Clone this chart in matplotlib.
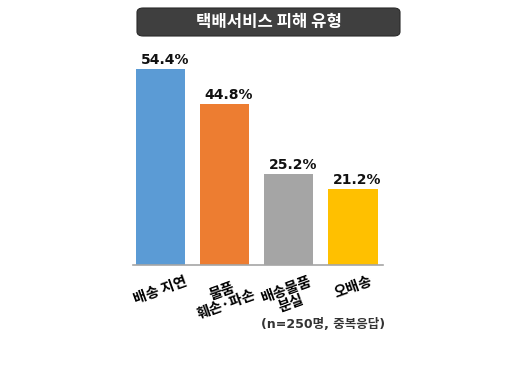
import matplotlib
matplotlib.use("Agg")
import matplotlib.pyplot as plt
from matplotlib.patches import FancyBboxPatch

categories = ["배송 지연", "물품\n훼손·파손", "배송물품\n분실", "오배송"]
values = [54.4, 44.8, 25.2, 21.2]
value_labels = ["54.4%", "44.8%", "25.2%", "21.2%"]
colors = ["#5B9BD5", "#ED7D31", "#A5A5A5", "#FFC000"]
title = "택배서비스 피해 유형"
note = "(n=250명, 중복응답)"

W, H = 520, 365
fig = plt.figure(figsize=(W / 100, H / 100), dpi=100)
fig.patch.set_facecolor("white")

ax_l, ax_r, ax_b, ax_t = 133, 383, 265, 49
ax = fig.add_axes([ax_l / W, 1 - ax_b / H, (ax_r - ax_l) / W, (ax_b - ax_t) / H])
x = range(len(categories))
ax.bar(x, values, width=0.77, color=colors)
ax.set_xlim(-0.43, 3.47)
ax.set_ylim(0, 60)
for s in ["top", "right", "left"]:
    ax.spines[s].set_visible(False)
ax.spines["bottom"].set_color("#A6A6A6")
ax.spines["bottom"].set_linewidth(1.2)
ax.set_yticks([])
ax.set_xticks(list(x))
ax.set_xticklabels(categories, rotation=20, ha="center", va="top",
                   family=["Noto Sans CJK KR", "DejaVu Sans"], fontweight="bold",
                   fontsize=10.3, linespacing=1.0)
ax.tick_params(axis="x", length=0, pad=7)
ax.set_facecolor("none")

for xi, v, lab in zip(x, values, value_labels):
    ax.annotate(lab, (xi, v), xytext=(3, 1.5), textcoords="offset points",
                ha="center", va="bottom", fontsize=10, fontweight="bold",
                family="DejaVu Sans", color="#111111")

# title box
bx0, bx1, by0, by1 = 137, 400, 8, 36
box = FancyBboxPatch((bx0 / W, 1 - by1 / H), (bx1 - bx0) / W, (by1 - by0) / H,
                     boxstyle="round,pad=0,rounding_size=0.012",
                     transform=fig.transFigure, facecolor="#3F3F3F",
                     edgecolor="#2A2A2A", linewidth=0.8)
fig.patches.append(box)
fig.text((bx0 + bx1) / 2 / W, 1 - (by0 + by1) / 2 / H, title, ha="center", va="center",
         color="white", fontsize=12, fontweight="bold",
         family=["Noto Sans CJK KR", "DejaVu Sans"])

fig.text(385 / W, 1 - 325 / H, note, ha="right", va="center", fontsize=9,
         fontweight="bold", color="#333333", family=["DejaVu Sans", "Noto Sans CJK KR"])

fig.savefig("out.png", dpi=100, facecolor="white")
